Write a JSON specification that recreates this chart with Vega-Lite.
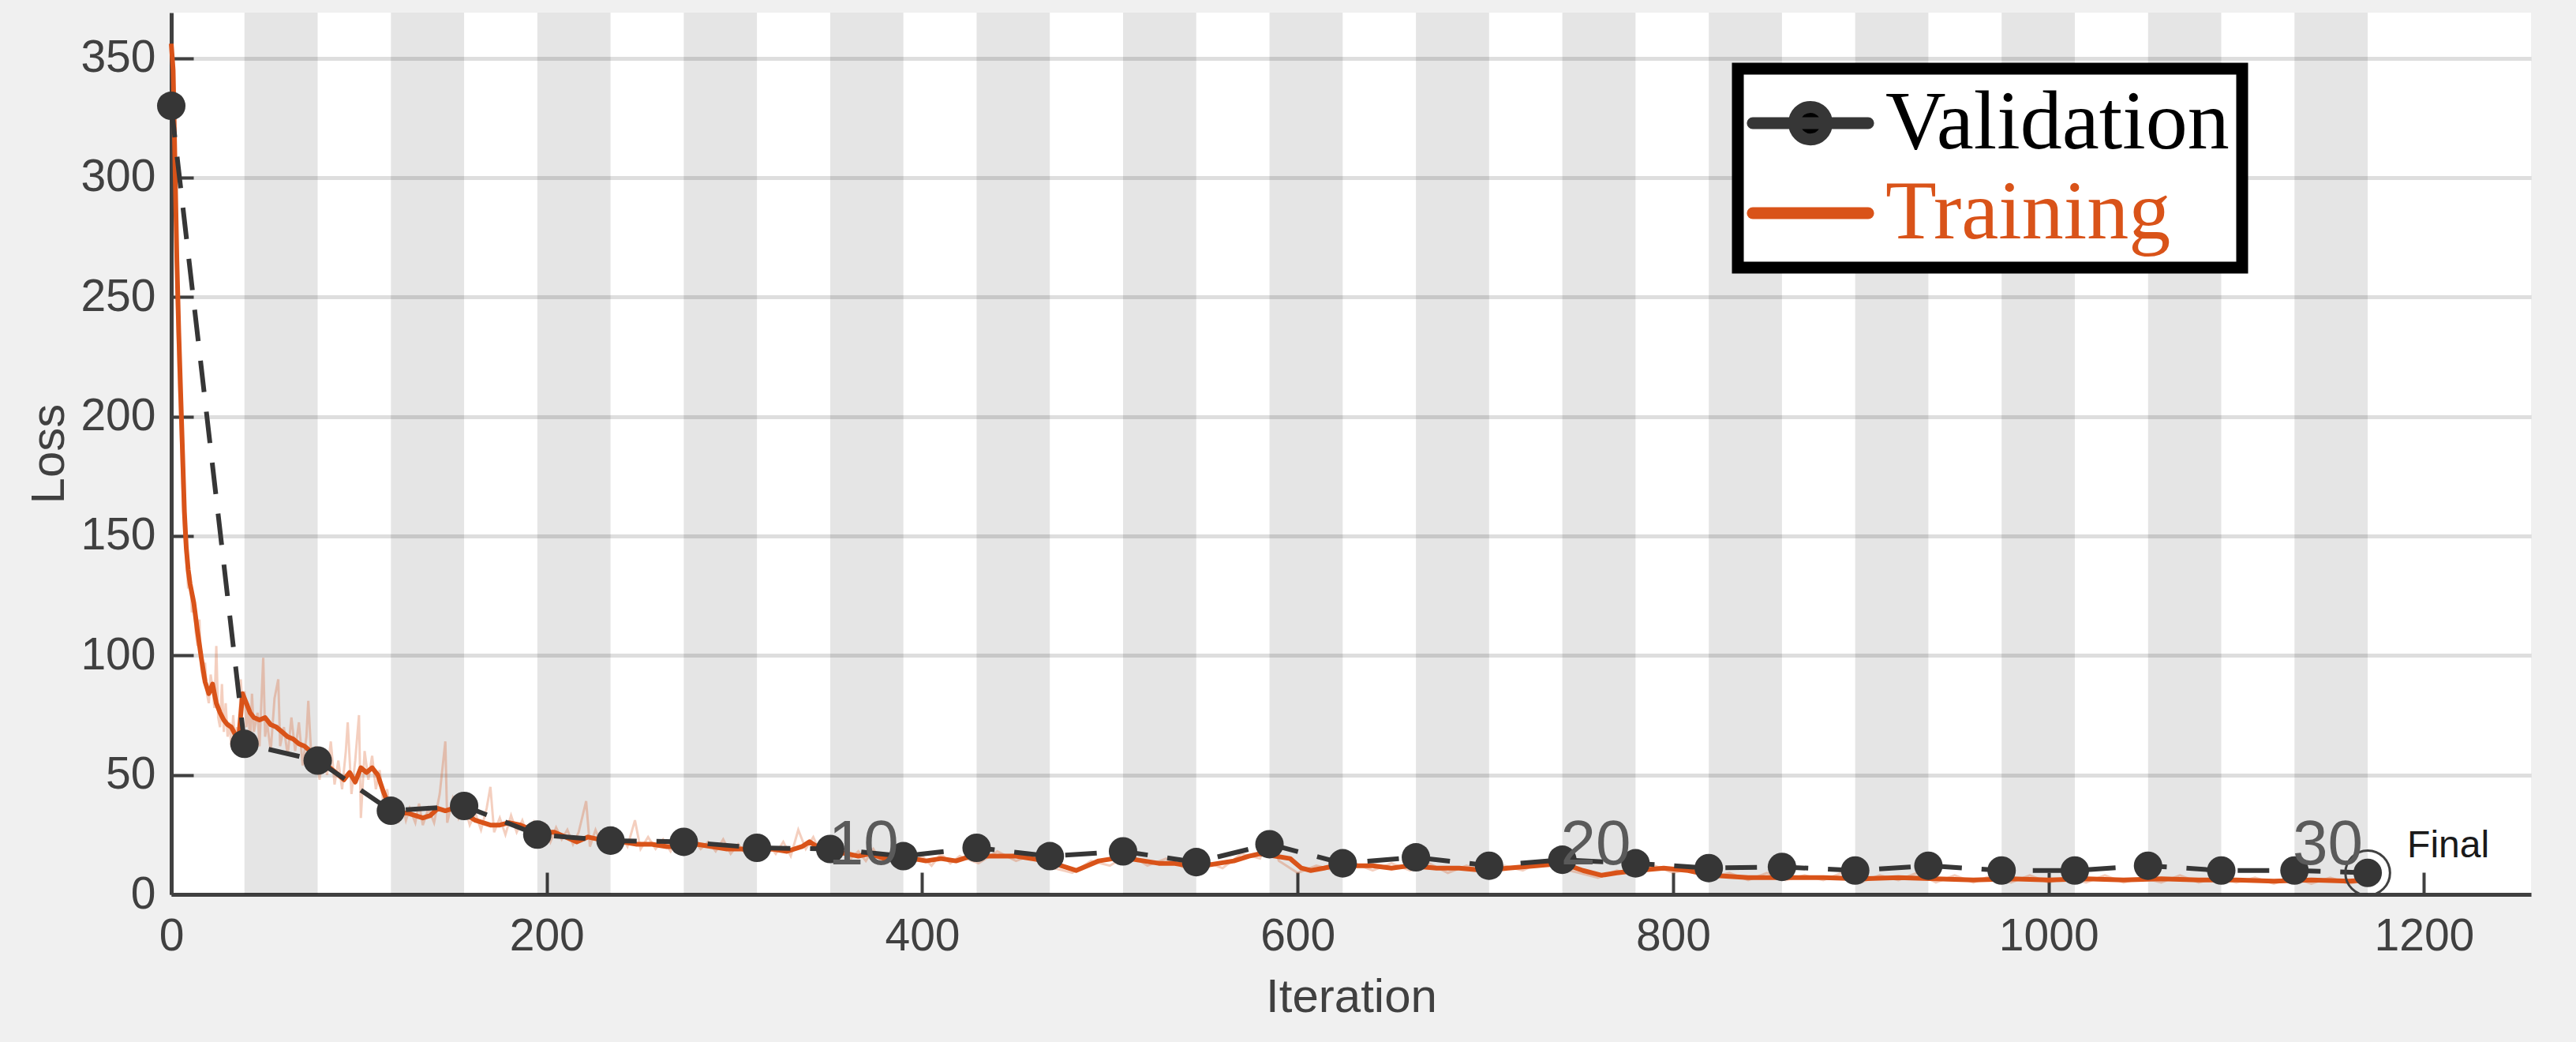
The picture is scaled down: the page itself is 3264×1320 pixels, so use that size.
{
  "$schema": "https://vega.github.io/schema/vega-lite/v6.json",
  "autosize": {"type": "none"},
  "width": 2990,
  "height": 1117,
  "padding": {"left": 217, "top": 16, "right": 57, "bottom": 187},
  "background": "#f0f0f0",
  "view": {"fill": "white", "stroke": null},
  "config": {
    "font": "Liberation Sans",
    "axis": {
      "labelFont": "Liberation Sans", "labelFontSize": 57, "labelColor": "#404040", "labelFlush": false,
      "titleFont": "Liberation Sans", "titleFontSize": 60, "titleColor": "#404040", "titleFontWeight": "normal",
      "domainColor": "#404040", "domainWidth": 5,
      "tickColor": "#404040", "tickWidth": 4, "tickSize": -28
    }
  },
  "datasets": {
    "bands": [
      {"start": 39, "end": 78}, {"start": 117, "end": 156}, {"start": 195, "end": 234}, {"start": 273, "end": 312},
      {"start": 351, "end": 390}, {"start": 429, "end": 468}, {"start": 507, "end": 546}, {"start": 585, "end": 624},
      {"start": 663, "end": 702}, {"start": 741, "end": 780}, {"start": 819, "end": 858}, {"start": 897, "end": 936},
      {"start": 975, "end": 1014}, {"start": 1053, "end": 1092}, {"start": 1131, "end": 1170}
    ],
    "raw": [
      {"iteration": 0, "loss": 356}, {"iteration": 1, "loss": 330}, {"iteration": 2, "loss": 290}, {"iteration": 3, "loss": 250},
      {"iteration": 4, "loss": 215}, {"iteration": 5, "loss": 195}, {"iteration": 6, "loss": 170}, {"iteration": 7, "loss": 150},
      {"iteration": 8, "loss": 140}, {"iteration": 9, "loss": 128}, {"iteration": 10, "loss": 134}, {"iteration": 11, "loss": 118},
      {"iteration": 12, "loss": 125}, {"iteration": 13, "loss": 110}, {"iteration": 14, "loss": 104}, {"iteration": 15, "loss": 115},
      {"iteration": 16, "loss": 94}, {"iteration": 17, "loss": 90}, {"iteration": 18, "loss": 97}, {"iteration": 19, "loss": 84},
      {"iteration": 20, "loss": 80}, {"iteration": 21, "loss": 92}, {"iteration": 22, "loss": 86}, {"iteration": 23, "loss": 78},
      {"iteration": 24, "loss": 104}, {"iteration": 25, "loss": 74}, {"iteration": 26, "loss": 70}, {"iteration": 27, "loss": 88},
      {"iteration": 28, "loss": 68}, {"iteration": 29, "loss": 80}, {"iteration": 30, "loss": 66}, {"iteration": 31, "loss": 72},
      {"iteration": 32, "loss": 62}, {"iteration": 33, "loss": 75}, {"iteration": 34, "loss": 64}, {"iteration": 35, "loss": 70},
      {"iteration": 36, "loss": 60}, {"iteration": 37, "loss": 90}, {"iteration": 38, "loss": 78}, {"iteration": 39, "loss": 85},
      {"iteration": 40, "loss": 70}, {"iteration": 41, "loss": 80}, {"iteration": 42, "loss": 62}, {"iteration": 43, "loss": 84},
      {"iteration": 44, "loss": 68}, {"iteration": 46, "loss": 76}, {"iteration": 47, "loss": 62}, {"iteration": 49, "loss": 99},
      {"iteration": 50, "loss": 66}, {"iteration": 51, "loss": 72}, {"iteration": 53, "loss": 60}, {"iteration": 55, "loss": 82},
      {"iteration": 57, "loss": 90}, {"iteration": 58, "loss": 62}, {"iteration": 60, "loss": 70}, {"iteration": 62, "loss": 58},
      {"iteration": 64, "loss": 74}, {"iteration": 66, "loss": 60}, {"iteration": 68, "loss": 72}, {"iteration": 70, "loss": 54},
      {"iteration": 72, "loss": 66}, {"iteration": 73, "loss": 81}, {"iteration": 75, "loss": 52}, {"iteration": 77, "loss": 62},
      {"iteration": 79, "loss": 48}, {"iteration": 81, "loss": 60}, {"iteration": 83, "loss": 50}, {"iteration": 85, "loss": 64},
      {"iteration": 87, "loss": 46}, {"iteration": 89, "loss": 56}, {"iteration": 91, "loss": 44}, {"iteration": 93, "loss": 60},
      {"iteration": 94, "loss": 72}, {"iteration": 96, "loss": 42}, {"iteration": 98, "loss": 56}, {"iteration": 100, "loss": 75},
      {"iteration": 101, "loss": 32}, {"iteration": 103, "loss": 60}, {"iteration": 105, "loss": 48}, {"iteration": 107, "loss": 58},
      {"iteration": 109, "loss": 44}, {"iteration": 111, "loss": 52}, {"iteration": 113, "loss": 38}, {"iteration": 115, "loss": 44},
      {"iteration": 117, "loss": 32}, {"iteration": 119, "loss": 40}, {"iteration": 121, "loss": 30}, {"iteration": 123, "loss": 38},
      {"iteration": 125, "loss": 31}, {"iteration": 127, "loss": 36}, {"iteration": 130, "loss": 30}, {"iteration": 132, "loss": 38},
      {"iteration": 134, "loss": 29}, {"iteration": 137, "loss": 36}, {"iteration": 140, "loss": 30}, {"iteration": 143, "loss": 42},
      {"iteration": 146, "loss": 64}, {"iteration": 147, "loss": 30}, {"iteration": 150, "loss": 40}, {"iteration": 153, "loss": 32},
      {"iteration": 156, "loss": 38}, {"iteration": 159, "loss": 29}, {"iteration": 162, "loss": 34}, {"iteration": 165, "loss": 27},
      {"iteration": 168, "loss": 36}, {"iteration": 170, "loss": 45}, {"iteration": 172, "loss": 26}, {"iteration": 175, "loss": 32},
      {"iteration": 178, "loss": 25}, {"iteration": 181, "loss": 33}, {"iteration": 184, "loss": 26}, {"iteration": 187, "loss": 31},
      {"iteration": 190, "loss": 24}, {"iteration": 193, "loss": 30}, {"iteration": 196, "loss": 23}, {"iteration": 199, "loss": 29},
      {"iteration": 202, "loss": 22}, {"iteration": 205, "loss": 28}, {"iteration": 208, "loss": 23}, {"iteration": 211, "loss": 27},
      {"iteration": 214, "loss": 21}, {"iteration": 217, "loss": 26}, {"iteration": 221, "loss": 39}, {"iteration": 223, "loss": 20},
      {"iteration": 226, "loss": 27}, {"iteration": 229, "loss": 21}, {"iteration": 232, "loss": 26}, {"iteration": 235, "loss": 20},
      {"iteration": 239, "loss": 25}, {"iteration": 243, "loss": 20}, {"iteration": 247, "loss": 31}, {"iteration": 250, "loss": 19},
      {"iteration": 254, "loss": 24}, {"iteration": 258, "loss": 19}, {"iteration": 262, "loss": 23}, {"iteration": 266, "loss": 18},
      {"iteration": 270, "loss": 24}, {"iteration": 274, "loss": 18}, {"iteration": 278, "loss": 23}, {"iteration": 282, "loss": 19},
      {"iteration": 286, "loss": 22}, {"iteration": 290, "loss": 18}, {"iteration": 294, "loss": 23}, {"iteration": 298, "loss": 17},
      {"iteration": 302, "loss": 21}, {"iteration": 306, "loss": 17}, {"iteration": 310, "loss": 22}, {"iteration": 314, "loss": 16},
      {"iteration": 318, "loss": 21}, {"iteration": 322, "loss": 17}, {"iteration": 326, "loss": 22}, {"iteration": 330, "loss": 16},
      {"iteration": 334, "loss": 27}, {"iteration": 338, "loss": 19}, {"iteration": 342, "loss": 24}, {"iteration": 346, "loss": 17},
      {"iteration": 350, "loss": 20}, {"iteration": 354, "loss": 16}, {"iteration": 358, "loss": 19}, {"iteration": 362, "loss": 15},
      {"iteration": 366, "loss": 18}, {"iteration": 370, "loss": 14}, {"iteration": 374, "loss": 19}, {"iteration": 378, "loss": 14},
      {"iteration": 382, "loss": 17}, {"iteration": 386, "loss": 13}, {"iteration": 390, "loss": 16}, {"iteration": 395, "loss": 13},
      {"iteration": 400, "loss": 16}, {"iteration": 405, "loss": 12}, {"iteration": 410, "loss": 17}, {"iteration": 415, "loss": 13},
      {"iteration": 420, "loss": 16}, {"iteration": 430, "loss": 13}, {"iteration": 440, "loss": 18}, {"iteration": 450, "loss": 14},
      {"iteration": 460, "loss": 17}, {"iteration": 470, "loss": 11}, {"iteration": 480, "loss": 9}, {"iteration": 490, "loss": 14},
      {"iteration": 500, "loss": 12}, {"iteration": 510, "loss": 17}, {"iteration": 520, "loss": 12}, {"iteration": 530, "loss": 15},
      {"iteration": 540, "loss": 11}, {"iteration": 550, "loss": 14}, {"iteration": 560, "loss": 11}, {"iteration": 570, "loss": 17},
      {"iteration": 580, "loss": 15}, {"iteration": 585, "loss": 25}, {"iteration": 590, "loss": 14}, {"iteration": 600, "loss": 9},
      {"iteration": 610, "loss": 12}, {"iteration": 620, "loss": 10}, {"iteration": 630, "loss": 13}, {"iteration": 640, "loss": 10},
      {"iteration": 650, "loss": 13}, {"iteration": 660, "loss": 10}, {"iteration": 670, "loss": 13}, {"iteration": 680, "loss": 9},
      {"iteration": 690, "loss": 12}, {"iteration": 700, "loss": 9}, {"iteration": 710, "loss": 12}, {"iteration": 720, "loss": 10},
      {"iteration": 730, "loss": 14}, {"iteration": 740, "loss": 11}, {"iteration": 750, "loss": 9}, {"iteration": 760, "loss": 7},
      {"iteration": 770, "loss": 10}, {"iteration": 780, "loss": 8}, {"iteration": 790, "loss": 12}, {"iteration": 800, "loss": 9},
      {"iteration": 810, "loss": 11}, {"iteration": 820, "loss": 7}, {"iteration": 830, "loss": 9}, {"iteration": 840, "loss": 6},
      {"iteration": 850, "loss": 9}, {"iteration": 860, "loss": 6}, {"iteration": 870, "loss": 8}, {"iteration": 880, "loss": 6},
      {"iteration": 890, "loss": 9}, {"iteration": 900, "loss": 5}, {"iteration": 910, "loss": 8}, {"iteration": 920, "loss": 6},
      {"iteration": 930, "loss": 9}, {"iteration": 940, "loss": 5}, {"iteration": 950, "loss": 8}, {"iteration": 960, "loss": 5},
      {"iteration": 970, "loss": 8}, {"iteration": 980, "loss": 5}, {"iteration": 990, "loss": 8}, {"iteration": 1000, "loss": 5},
      {"iteration": 1010, "loss": 7}, {"iteration": 1020, "loss": 5}, {"iteration": 1030, "loss": 8}, {"iteration": 1040, "loss": 5},
      {"iteration": 1050, "loss": 7}, {"iteration": 1060, "loss": 5}, {"iteration": 1070, "loss": 8}, {"iteration": 1080, "loss": 5},
      {"iteration": 1090, "loss": 7}, {"iteration": 1100, "loss": 5}, {"iteration": 1110, "loss": 7}, {"iteration": 1120, "loss": 4.5},
      {"iteration": 1130, "loss": 7}, {"iteration": 1140, "loss": 4.5}, {"iteration": 1150, "loss": 7}, {"iteration": 1160, "loss": 4.5},
      {"iteration": 1170, "loss": 6}
    ],
    "train": [
      {"iteration": 0, "loss": 356}, {"iteration": 1, "loss": 345}, {"iteration": 2, "loss": 305}, {"iteration": 3, "loss": 265},
      {"iteration": 4, "loss": 235}, {"iteration": 5, "loss": 210}, {"iteration": 6, "loss": 185}, {"iteration": 7, "loss": 160},
      {"iteration": 8, "loss": 145}, {"iteration": 9, "loss": 136}, {"iteration": 10, "loss": 130}, {"iteration": 12, "loss": 122},
      {"iteration": 14, "loss": 110}, {"iteration": 16, "loss": 99}, {"iteration": 18, "loss": 89}, {"iteration": 20, "loss": 84},
      {"iteration": 22, "loss": 88}, {"iteration": 24, "loss": 80}, {"iteration": 26, "loss": 76}, {"iteration": 28, "loss": 73},
      {"iteration": 30, "loss": 71}, {"iteration": 32, "loss": 70}, {"iteration": 34, "loss": 67}, {"iteration": 36, "loss": 66},
      {"iteration": 38, "loss": 84}, {"iteration": 40, "loss": 80}, {"iteration": 42, "loss": 76}, {"iteration": 44, "loss": 74},
      {"iteration": 47, "loss": 73}, {"iteration": 50, "loss": 74}, {"iteration": 53, "loss": 71}, {"iteration": 56, "loss": 70},
      {"iteration": 59, "loss": 68}, {"iteration": 62, "loss": 66}, {"iteration": 65, "loss": 65}, {"iteration": 68, "loss": 63},
      {"iteration": 71, "loss": 62}, {"iteration": 74, "loss": 60}, {"iteration": 77, "loss": 57}, {"iteration": 80, "loss": 55},
      {"iteration": 83, "loss": 54}, {"iteration": 86, "loss": 52}, {"iteration": 89, "loss": 50}, {"iteration": 92, "loss": 48},
      {"iteration": 95, "loss": 51}, {"iteration": 98, "loss": 47}, {"iteration": 101, "loss": 53}, {"iteration": 104, "loss": 51},
      {"iteration": 107, "loss": 53}, {"iteration": 110, "loss": 50}, {"iteration": 113, "loss": 43}, {"iteration": 116, "loss": 37},
      {"iteration": 119, "loss": 35}, {"iteration": 122, "loss": 34}, {"iteration": 126, "loss": 34}, {"iteration": 130, "loss": 33},
      {"iteration": 134, "loss": 32}, {"iteration": 138, "loss": 33}, {"iteration": 142, "loss": 36}, {"iteration": 146, "loss": 35},
      {"iteration": 150, "loss": 36}, {"iteration": 154, "loss": 35}, {"iteration": 158, "loss": 33}, {"iteration": 162, "loss": 31},
      {"iteration": 166, "loss": 30}, {"iteration": 170, "loss": 29}, {"iteration": 175, "loss": 29}, {"iteration": 180, "loss": 30},
      {"iteration": 186, "loss": 29}, {"iteration": 192, "loss": 27}, {"iteration": 198, "loss": 26}, {"iteration": 204, "loss": 26},
      {"iteration": 210, "loss": 24}, {"iteration": 216, "loss": 22}, {"iteration": 222, "loss": 24}, {"iteration": 228, "loss": 23},
      {"iteration": 234, "loss": 22}, {"iteration": 240, "loss": 22}, {"iteration": 248, "loss": 21}, {"iteration": 256, "loss": 21},
      {"iteration": 264, "loss": 20}, {"iteration": 272, "loss": 20}, {"iteration": 280, "loss": 21}, {"iteration": 288, "loss": 20},
      {"iteration": 296, "loss": 19}, {"iteration": 304, "loss": 19}, {"iteration": 312, "loss": 18}, {"iteration": 320, "loss": 19},
      {"iteration": 328, "loss": 18}, {"iteration": 336, "loss": 20}, {"iteration": 340, "loss": 22}, {"iteration": 346, "loss": 19},
      {"iteration": 352, "loss": 18}, {"iteration": 360, "loss": 17}, {"iteration": 366, "loss": 16}, {"iteration": 372, "loss": 17},
      {"iteration": 380, "loss": 15}, {"iteration": 388, "loss": 15}, {"iteration": 395, "loss": 15}, {"iteration": 402, "loss": 14},
      {"iteration": 410, "loss": 15}, {"iteration": 418, "loss": 14}, {"iteration": 426, "loss": 16}, {"iteration": 434, "loss": 16},
      {"iteration": 442, "loss": 16}, {"iteration": 450, "loss": 16}, {"iteration": 458, "loss": 15}, {"iteration": 466, "loss": 14},
      {"iteration": 474, "loss": 12}, {"iteration": 482, "loss": 10}, {"iteration": 488, "loss": 12}, {"iteration": 494, "loss": 14},
      {"iteration": 502, "loss": 15}, {"iteration": 510, "loss": 15}, {"iteration": 518, "loss": 14}, {"iteration": 526, "loss": 13},
      {"iteration": 534, "loss": 13}, {"iteration": 542, "loss": 12}, {"iteration": 550, "loss": 12}, {"iteration": 558, "loss": 13},
      {"iteration": 566, "loss": 14}, {"iteration": 574, "loss": 16}, {"iteration": 580, "loss": 17}, {"iteration": 588, "loss": 16},
      {"iteration": 596, "loss": 15}, {"iteration": 602, "loss": 11}, {"iteration": 607, "loss": 10}, {"iteration": 614, "loss": 11},
      {"iteration": 620, "loss": 12}, {"iteration": 630, "loss": 12}, {"iteration": 640, "loss": 12}, {"iteration": 650, "loss": 11},
      {"iteration": 660, "loss": 12}, {"iteration": 674, "loss": 11}, {"iteration": 686, "loss": 11}, {"iteration": 700, "loss": 10},
      {"iteration": 712, "loss": 11}, {"iteration": 727, "loss": 12}, {"iteration": 741, "loss": 13}, {"iteration": 752, "loss": 10},
      {"iteration": 762, "loss": 8}, {"iteration": 770, "loss": 9}, {"iteration": 781, "loss": 10}, {"iteration": 795, "loss": 11},
      {"iteration": 808, "loss": 10}, {"iteration": 820, "loss": 8}, {"iteration": 840, "loss": 7}, {"iteration": 860, "loss": 7},
      {"iteration": 880, "loss": 7}, {"iteration": 900, "loss": 6.5}, {"iteration": 920, "loss": 7}, {"iteration": 940, "loss": 6.5},
      {"iteration": 960, "loss": 6}, {"iteration": 980, "loss": 6.5}, {"iteration": 1000, "loss": 6}, {"iteration": 1020, "loss": 6.5},
      {"iteration": 1040, "loss": 6}, {"iteration": 1060, "loss": 6.5}, {"iteration": 1080, "loss": 6}, {"iteration": 1100, "loss": 6},
      {"iteration": 1120, "loss": 5.5}, {"iteration": 1140, "loss": 6}, {"iteration": 1160, "loss": 5.5}, {"iteration": 1170, "loss": 6}
    ],
    "val": [
      {"iteration": 0, "loss": 330}, {"iteration": 39, "loss": 63}, {"iteration": 78, "loss": 56}, {"iteration": 117, "loss": 35},
      {"iteration": 156, "loss": 37}, {"iteration": 195, "loss": 25}, {"iteration": 234, "loss": 22.5}, {"iteration": 273, "loss": 22},
      {"iteration": 312, "loss": 19.5}, {"iteration": 351, "loss": 19}, {"iteration": 390, "loss": 16}, {"iteration": 429, "loss": 19.5},
      {"iteration": 468, "loss": 16}, {"iteration": 507, "loss": 18}, {"iteration": 546, "loss": 13.5}, {"iteration": 585, "loss": 21},
      {"iteration": 624, "loss": 13}, {"iteration": 663, "loss": 15.5}, {"iteration": 702, "loss": 12}, {"iteration": 741, "loss": 14.5},
      {"iteration": 780, "loss": 13}, {"iteration": 819, "loss": 11}, {"iteration": 858, "loss": 11.5}, {"iteration": 897, "loss": 10},
      {"iteration": 936, "loss": 12}, {"iteration": 975, "loss": 10}, {"iteration": 1014, "loss": 10}, {"iteration": 1053, "loss": 12},
      {"iteration": 1092, "loss": 10}, {"iteration": 1131, "loss": 10}, {"iteration": 1170, "loss": 9}
    ],
    "epochs": [
      {"iteration": 390, "label": "10"}, {"iteration": 780, "label": "20"}, {"iteration": 1170, "label": "30"}
    ],
    "final": [
      {"iteration": 1170, "loss": 9, "label": "Final"}
    ]
  },
  "layer": [
    {
      "data": {"name": "bands"},
      "mark": {"type": "rect", "fill": "black", "opacity": 0.1},
      "encoding": {
        "x": {"field": "start", "type": "quantitative",
              "scale": {"domain": [0, 1257], "nice": false, "zero": false},
              "axis": {"values": [0, 200, 400, 600, 800, 1000, 1200], "format": "d", "title": "Iteration", "grid": false,
                       "labelPadding": 53, "titlePadding": 20}},
        "x2": {"field": "end"}
      }
    },
    {
      "data": {"name": "raw"},
      "mark": {"type": "line", "color": "#D95319", "opacity": 0.28, "strokeWidth": 3},
      "encoding": {
        "x": {"field": "iteration", "type": "quantitative"},
        "y": {"field": "loss", "type": "quantitative",
              "scale": {"domain": [0, 369], "nice": false},
              "axis": {"values": [0, 50, 100, 150, 200, 250, 300, 350], "title": "Loss",
                       "grid": true, "gridColor": "black", "gridOpacity": 0.13, "gridWidth": 5,
                       "labelPadding": 48, "titlePadding": 8}}
      }
    },
    {
      "data": {"name": "train"},
      "mark": {"type": "line", "strokeWidth": 6, "strokeJoin": "round"},
      "encoding": {
        "x": {"field": "iteration", "type": "quantitative"},
        "y": {"field": "loss", "type": "quantitative"},
        "color": {"datum": "Training"}
      }
    },
    {
      "data": {"name": "val"},
      "mark": {"type": "line", "strokeWidth": 6, "strokeDash": [40, 25]},
      "encoding": {
        "x": {"field": "iteration", "type": "quantitative"},
        "y": {"field": "loss", "type": "quantitative"},
        "color": {
          "datum": "Validation",
          "scale": {"domain": ["Validation", "Training"], "range": ["#363636", "#D95319"]},
          "legend": {
            "title": null,
            "orient": "none",
            "legendX": 1985,
            "legendY": 71,
            "padding": 16,
            "rowPadding": 8,
            "symbolSize": 5625,
            "symbolOffset": 23,
            "labelOffset": 42,
            "labelFont": "Liberation Serif",
            "labelFontSize": 106,
            "labelLimit": 0,
            "labelColor": "black",
            "encode": {
              "symbols": {"update": {
                "shape": {"signal": "datum.value === 'Validation' ? 'M-1.95,0L1.95,0M0.55,0A0.55,0.55,0,1,1,-0.55,0A0.55,0.55,0,1,1,0.55,0Z' : 'M-1.95,0L1.95,0'"},
                "fill": {"signal": "datum.value === 'Validation' ? 'black' : 'transparent'"},
                "stroke": {"signal": "datum.value === 'Validation' ? 'black' : '#D95319'"},
                "strokeWidth": {"value": 15},
                "strokeCap": {"value": "round"},
                "strokeDash": {"value": []},
                "opacity": {"value": 1}
              }},
              "labels": {"update": {
                "fill": {"signal": "datum.value === 'Training' ? '#D95319' : 'black'"}
              }},
              "legend": {"update": {
                "stroke": {"value": "black"},
                "strokeWidth": {"value": 15},
                "fill": {"value": "white"}
              }}
            }
          }
        }
      }
    },
    {
      "data": {"name": "val"},
      "mark": {"type": "point", "shape": "circle", "filled": true, "color": "#363636", "opacity": 1, "size": 1300},
      "encoding": {
        "x": {"field": "iteration", "type": "quantitative"},
        "y": {"field": "loss", "type": "quantitative"}
      }
    },
    {
      "data": {"name": "final"},
      "mark": {"type": "point", "shape": "circle", "filled": false, "stroke": "#404040", "strokeWidth": 3, "opacity": 1, "size": 3200},
      "encoding": {
        "x": {"field": "iteration", "type": "quantitative"},
        "y": {"field": "loss", "type": "quantitative"}
      }
    },
    {
      "data": {"name": "epochs"},
      "mark": {"type": "text", "font": "Liberation Sans", "fontSize": 80, "color": "#5a5a5a", "align": "right", "baseline": "alphabetic", "dx": -6},
      "encoding": {
        "x": {"field": "iteration", "type": "quantitative"},
        "y": {"datum": 12.5, "type": "quantitative"},
        "text": {"field": "label"}
      }
    },
    {
      "data": {"name": "final"},
      "mark": {"type": "text", "font": "Liberation Sans", "fontSize": 48, "color": "#1a1a1a", "align": "left", "baseline": "alphabetic", "dx": 50},
      "encoding": {
        "x": {"field": "iteration", "type": "quantitative"},
        "y": {"datum": 15.5, "type": "quantitative"},
        "text": {"field": "label"}
      }
    }
  ]
}
